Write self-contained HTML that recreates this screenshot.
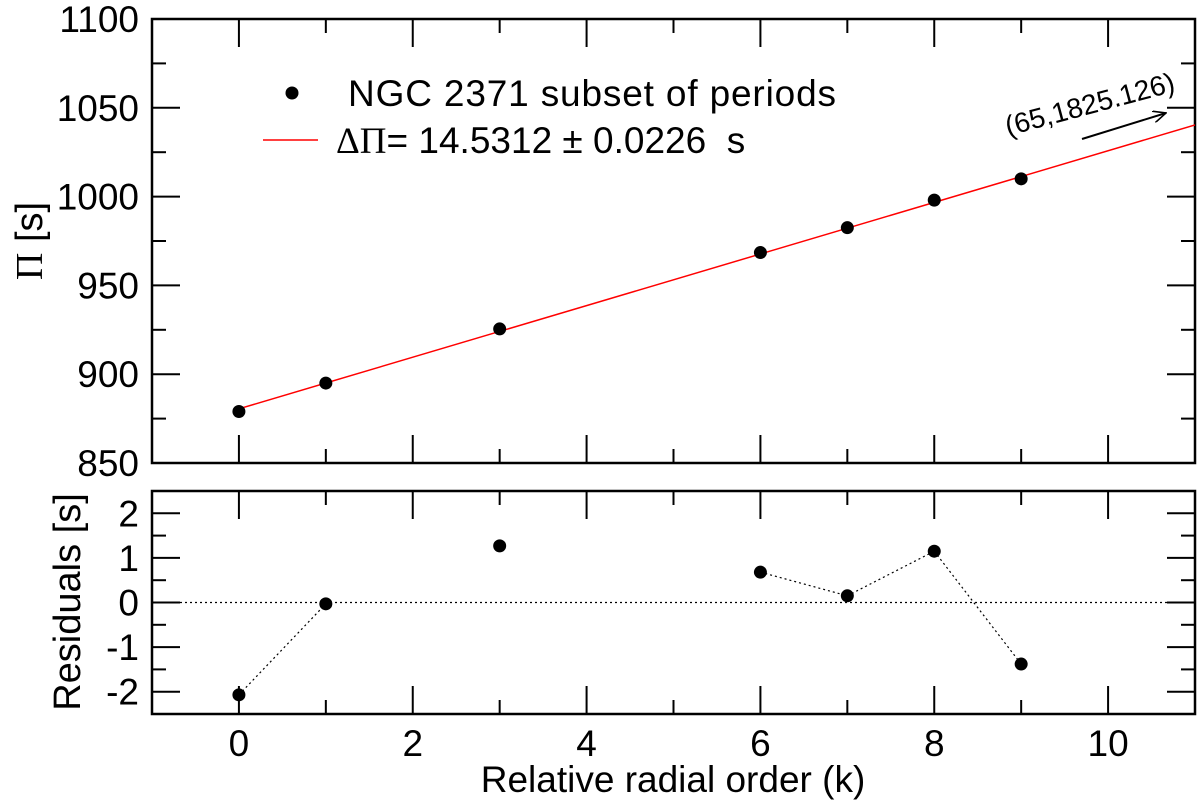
<!DOCTYPE html>
<html><head><meta charset="utf-8"><style>
body{margin:0;background:#fff}
svg{display:block;font-family:"Liberation Sans",sans-serif}
text{white-space:pre}
</style></head><body>
<svg id="c" width="1200" height="811" xmlns="http://www.w3.org/2000/svg">
<defs><marker id="ah" markerWidth="14" markerHeight="12" refX="13" refY="6" orient="auto" markerUnits="userSpaceOnUse"><path d="M0,0 L13,6 L0,12" fill="none" stroke="#000" stroke-width="1.6"/></marker></defs>
<g id="g"></g>
</svg>
<script>
const kOrder=[0,1,3,6,7,8,9];
const periods=[879,895,925.5,968.5,982.5,998,1010];
const residuals=[-2.07,-0.03,1.27,0.68,0.15,1.15,-1.38];
const fitIntercept=880.5, fitSlope=14.5312;
const xTicks=[0,2,4,6,8,10];
const yTopTicks=[850,900,950,1000,1050,1100];
const yBotTicks=[-2,-1,0,1,2];

const L=152,R=1195,T1=19,B1=463,T2=491,B2=714;
const X=v=>L+(v+1)*(R-L)/12;
const Y1=v=>B1-(v-850)*(B1-T1)/250;
const Y2=v=>B2-(v+2.5)*(B2-T2)/5;
const g=document.getElementById('g');
const NS='http://www.w3.org/2000/svg';
function el(t,a,txt){const e=document.createElementNS(NS,t);for(const k in a)e.setAttribute(k,a[k]);if(txt!==undefined)e.textContent=txt;g.appendChild(e);return e;}
function ln(x1,y1,x2,y2,extra){return el('line',Object.assign({x1,y1,x2,y2,stroke:'#000','stroke-width':2},extra||{}));}

let f=el('rect',{x:L,y:T1,width:R-L,height:B1-T1,fill:'none',stroke:'#000','stroke-width':2.5});


f=el('rect',{x:L,y:T2,width:R-L,height:B2-T2,fill:'none',stroke:'#000','stroke-width':2.5});



for(let v=0;v<=10;v++){
  const x=X(v),len=(v%2===0)?28:14;
  ln(x,T1,x,T1+len);ln(x,B1,x,B1-len);ln(x,T2,x,T2+len);ln(x,B2,x,B2-len);
}
xTicks.forEach(v=>{const t=el('text',{x:X(v),y:756,'font-size':37,'text-anchor':'middle'},String(v));

});
for(let v=850;v<=1100;v+=25){const y=Y1(v),len=(v%50===0)?28:14;ln(L,y,L+len,y);ln(R,y,R-len,y);}
yTopTicks.forEach(v=>{const t=el('text',{x:139,y:Y1(v)+13,'font-size':37,'text-anchor':'end'},String(v));

});
for(let v=-2;v<=2;v+=0.5){const y=Y2(v),len=(Math.abs(v%1)<1e-9)?28:14;ln(L,y,L+len,y);ln(R,y,R-len,y);}
yBotTicks.forEach(v=>{const t=el('text',{x:139,y:Y2(v)+13,'font-size':37,'text-anchor':'end'},String(v));

});

let fl=el('line',{x1:X(0),y1:Y1(fitIntercept),x2:X(11),y2:Y1(fitIntercept+11*fitSlope),stroke:'#f00','stroke-width':1.5});


kOrder.forEach((k,i)=>{const c=el('circle',{cx:X(k),cy:Y1(periods[i]),r:6.5,fill:'#000'});

});
let z=el('line',{x1:L+28,y1:Y2(0),x2:R-28,y2:Y2(0),stroke:'#000','stroke-width':1.2,'stroke-dasharray':'2,3'});


for(let i=0;i<kOrder.length-1;i++){if(kOrder[i+1]-kOrder[i]!==1)continue;
 const d=el('line',{x1:X(kOrder[i]),y1:Y2(residuals[i]),x2:X(kOrder[i+1]),y2:Y2(residuals[i+1]),stroke:'#000','stroke-width':1.2,'stroke-dasharray':'2,3'});
 
 }
kOrder.forEach((k,i)=>{const c=el('circle',{cx:X(k),cy:Y2(residuals[i]),r:6.5,fill:'#000'});

});

let lc=el('circle',{cx:292,cy:93,r:6.5,fill:'#000'});


let lt=el('text',{x:348,y:106,'font-size':37,textLength:488},'NGC 2371 subset of periods');


let ll=el('line',{x1:263,y1:140,x2:318,y2:140,stroke:'#f00','stroke-width':1.5});


let lt2=el('text',{x:336,y:153,'font-size':37});


lt2.innerHTML='<tspan font-family="Liberation Serif, serif">\u0394\u03A0</tspan>= 14.5312 \u00B1 0.0226  s';

let an=el('text',{x:0,y:0,'font-size':28,transform:'translate(1008,136) rotate(-15)'},'(65,1825.126)');


let ar=el('line',{x1:1082,y1:139,x2:1166,y2:113,stroke:'#000','stroke-width':2,'marker-end':'url(#ah)'});



let yt=el('text',{x:0,y:0,'font-size':38,'text-anchor':'middle',transform:'translate(42,241) rotate(-90)'});
yt.innerHTML='<tspan font-family="Liberation Serif, serif">\u03A0</tspan> [s]';


let yb=el('text',{x:0,y:0,'font-size':38,'text-anchor':'middle',transform:'translate(80,602) rotate(-90)'},'Residuals [s]');


let xt=el('text',{x:673,y:792,'font-size':37,'text-anchor':'middle'},'Relative radial order (k)');


</script>
</body></html>
